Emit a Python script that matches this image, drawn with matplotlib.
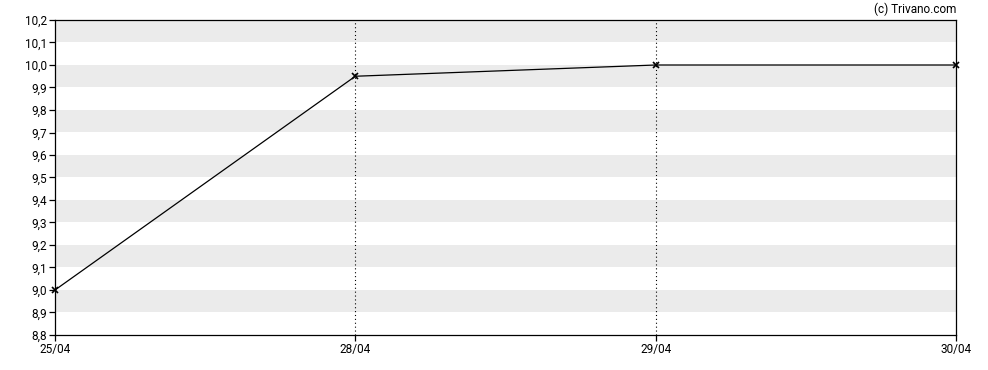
import matplotlib
matplotlib.use("Agg")
import matplotlib.pyplot as plt

plt.rcParams["font.family"] = ["Roboto", "DejaVu Sans"]

# ---- data ---------------------------------------------------------
dates = ["25/04", "28/04", "29/04", "30/04"]
prices = [9.0, 9.95, 10.0, 10.0]
y_ticks = [8.8, 8.9, 9.0, 9.1, 9.2, 9.3, 9.4, 9.5, 9.6, 9.7, 9.8, 9.9, 10.0, 10.1, 10.2]
band_tops = [10.2, 10.0, 9.8, 9.6, 9.4, 9.2, 9.0]

fig = plt.figure(figsize=(9.88, 3.70), dpi=100)
ax = fig.add_axes([55 / 988, 1 - 335 / 370, (956 - 55) / 988, (335 - 20) / 370])

x = list(range(len(dates)))
for top in band_tops:
    ax.axhspan(top - 0.1, top, color="#ebebeb", lw=0, zorder=0)
for xi in x[1:-1]:
    ax.axvline(xi, color="black", lw=0.8, ls=(0, (1, 2.5)), zorder=1)

ax.plot(x, prices, color="black", lw=0.9, marker="x", ms=4, mew=1.2,
        zorder=3, clip_on=False)

ax.set_xlim(x[0], x[-1])
ax.set_ylim(8.8, 10.2)
ax.set_xticks(x)
ax.set_xticklabels(dates)
ax.set_yticks(y_ticks)
ax.set_yticklabels([f"{v:.1f}".replace(".", ",") for v in y_ticks])
ax.tick_params(labelsize=8.5, length=4, width=0.9, pad=2, colors="black")
for s in ax.spines.values():
    s.set_linewidth(0.9)

fig.text(956 / 988, 1 - 9 / 370, "(c) Trivano.com", ha="right", va="center", fontsize=8.5)

fig.savefig("out.png", dpi=100)
